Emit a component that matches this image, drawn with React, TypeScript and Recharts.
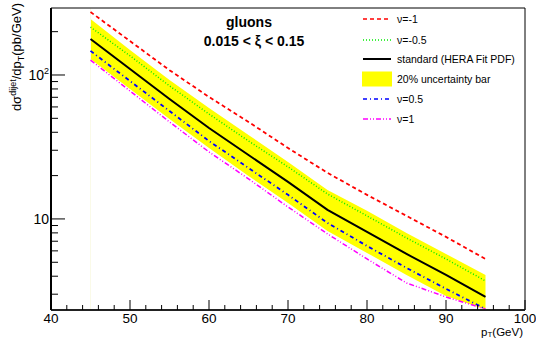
import { ComposedChart, Line, Area, XAxis, YAxis, ReferenceLine, Legend } from 'recharts';

// pT points (GeV) and cross sections (pb/GeV)
const ptGeV = [45, 50, 55, 60, 65, 70, 75, 80, 85, 90, 95];
const nuMinus1 = [274, 172, 108, 70.4, 47.2, 31.1, 20.9, 14.7, 10.5, 7.5, 5.27];
const nuMinusHalf = [215, 136, 84, 53.6, 34.8, 23.0, 14.9, 10.5, 7.38, 5.27, 3.71];
const standard = [178, 110, 68.1, 42.8, 27.8, 18.1, 11.55, 8.12, 5.71, 4.08, 2.87];
const bandUpper = [245, 149, 92.3, 59.0, 38.3, 24.9, 15.9, 11.4, 7.99, 5.71, 4.08];
const bandLower = [129, 80, 49.5, 31.1, 19.9, 12.9, 8.25, 5.81, 4.08, 2.92, 2.35];
const nuHalf = [147, 90.8, 56.2, 34.8, 22.6, 14.7, 9.38, 6.49, 4.57, 3.27, 2.37];
const nuPlus1 = [127, 77.4, 47.2, 29.2, 19.0, 12.1, 7.87, 5.27, 3.59, 2.87, 2.37];

const xTicks = [40, 42, 44, 46, 48, 50, 52, 54, 56, 58, 60, 62, 64, 66, 68, 70, 72, 74, 76, 78, 80, 82, 84, 86, 88, 90, 92, 94, 96, 98, 100];
const yTicks = [3, 4, 5, 6, 7, 8, 9, 10, 20, 30, 40, 50, 60, 70, 80, 90, 100, 200];
const legendLabels = ['ν=-1', 'ν=-0.5', 'standard (HERA Fit PDF)', '20% uncertainty bar', 'ν=0.5', 'ν=1'];

const X_MIN = 40;
const X_MAX = 100;
const Y_MIN = 2.33;
const Y_MAX = 292;
const FONT = '"Liberation Sans", Arial, Helvetica, sans-serif';

const data = ptGeV.map((pt, i) => ({
  pt,
  m1: nuMinus1[i],
  mh: nuMinusHalf[i],
  std: standard[i],
  band: [bandLower[i], bandUpper[i]],
  ph: nuHalf[i],
  p1: nuPlus1[i],
}));

function XTick({ x, y, payload }: any) {
  const v = payload.value;
  const major = v % 10 === 0;
  return (
    <g>
      <line x1={x} x2={x} y1={y} y2={y - (major ? 10 : 5)} stroke="#000" strokeWidth={1} />
      {major && (
        <text x={x} y={y + 13} textAnchor="middle" fontSize={13.5} fontFamily={FONT} fill="#000">
          {v}
        </text>
      )}
    </g>
  );
}

function YTick({ x, y, payload }: any) {
  const v = payload.value;
  const major = v === 10 || v === 100;
  return (
    <g>
      <line x1={x} x2={x + (major ? 14 : 7)} y1={y} y2={y} stroke="#000" strokeWidth={1} />
      {v === 10 && (
        <text x={x - 2} y={y + 5} textAnchor="end" fontSize={14} fontFamily={FONT} fill="#000">10</text>
      )}
      {v === 100 && (
        <text x={x - 2} y={y + 5} textAnchor="end" fontSize={14} fontFamily={FONT} fill="#000">
          10<tspan dy={-6} fontSize={9}>2</tspan>
        </text>
      )}
    </g>
  );
}

// legend rows: [stroke, dash, width]
const legendStyles: [string, string, number][] = [
  ['#ff0000', '4 3', 1.5],
  ['#00ee00', '1 2', 1.5],
  ['#000000', '', 2],
  ['#ffff00', '', 0],
  ['#0000ff', '4 3 1 3', 1.5],
  ['#ff00ff', '5 2 1 2 1 2', 1.5],
];
const legendRows = [14, 35, 54, 74, 94, 114];

const renderLegend = () => (
  <svg width={180} height={130} style={{ display: 'block' }}>
    {legendLabels.map((label, i) => {
      const [color, dash, w] = legendStyles[i];
      const cy = legendRows[i];
      return (
        <g key={label}>
          {w === 0 ? (
            <rect x={7} y={cy - 7.5} width={30} height={15} fill={color} />
          ) : (
            <line x1={8} x2={36} y1={cy} y2={cy} stroke={color} strokeWidth={w} strokeDasharray={dash || undefined} />
          )}
          <text x={42} y={cy + 4} fontSize={10.5} fontFamily={FONT} fill="#000">{label}</text>
        </g>
      );
    })}
  </svg>
);

export default function App() {
  return (
    <div style={{ position: 'absolute', left: 0, top: 0, width: 536, height: 340, background: '#fff' }}>
      <ComposedChart width={536} height={340} data={data} margin={{ top: 8, right: 11, bottom: 0, left: 0 }}>
        <XAxis
          dataKey="pt"
          type="number"
          domain={[X_MIN, X_MAX]}
          ticks={xTicks}
          interval={0}
          height={30}
          tickSize={0}
          tickMargin={0}
          tickLine={false}
          axisLine={{ stroke: '#222', strokeWidth: 2 }}
          tick={<XTick />}
        />
        <YAxis
          scale="log"
          type="number"
          domain={[Y_MIN, Y_MAX]}
          allowDataOverflow
          ticks={yTicks}
          interval={0}
          width={51}
          tickSize={0}
          tickMargin={0}
          tickLine={false}
          axisLine={{ stroke: '#000', strokeWidth: 2 }}
          tick={<YTick />}
        />
        <Area
          type="linear"
          dataKey="band"
          stroke="none"
          fill="#ffff00"
          fillOpacity={1}
          isAnimationActive={false}
        />
        <ReferenceLine x={45} stroke="#fafae8" strokeWidth={1} />
        <ReferenceLine y={Y_MAX} stroke="#000" strokeWidth={1} />
        <ReferenceLine x={X_MAX} stroke="#000" strokeWidth={1} />
        <Line type="linear" dataKey="m1" stroke="#ff0000" strokeWidth={1.8} strokeDasharray="4 3" dot={false} isAnimationActive={false} />
        <Line type="linear" dataKey="mh" stroke="#00ee00" strokeWidth={1.5} strokeDasharray="1 2" dot={false} isAnimationActive={false} />
        <Line type="linear" dataKey="std" stroke="#000000" strokeWidth={2} dot={false} isAnimationActive={false} />
        <Line type="linear" dataKey="ph" stroke="#0000ff" strokeWidth={1.8} strokeDasharray="4 3 1 3" dot={false} isAnimationActive={false} />
        <Line type="linear" dataKey="p1" stroke="#ff00ff" strokeWidth={1.5} strokeDasharray="5 2 1 2 1 2" dot={false} isAnimationActive={false} />
        <Legend
          layout="vertical"
          align="center"
          verticalAlign="middle"
          content={renderLegend}
          wrapperStyle={{ left: 355, top: 5, width: 180, height: 130 }}
        />
        <text x={249} y={27} textAnchor="middle" fontSize={14} fontWeight="bold" fontFamily={FONT} fill="#000">gluons</text>
        <text x={254} y={46} textAnchor="middle" fontSize={14} fontWeight="bold" fontFamily={FONT} fill="#000">
          0.015 &lt; ξ &lt; 0.15
        </text>
        <text transform="translate(21,3) rotate(-90)" textAnchor="end" fontSize={13} fontFamily={FONT} fill="#000">
          dσ<tspan dy={-5} fontSize={9}>dijet</tspan>
          <tspan dy={5}>/dp</tspan>
          <tspan dy={3} fontSize={9}>T</tspan>
          <tspan dy={-3}>(pb/GeV)</tspan>
        </text>
        <text x={523} y={336} textAnchor="end" fontSize={11.5} fontFamily={FONT} fill="#000">
          p<tspan dy={1} fontSize={8}>T</tspan>
          <tspan dy={-1}>(GeV)</tspan>
        </text>
      </ComposedChart>
    </div>
  );
}
